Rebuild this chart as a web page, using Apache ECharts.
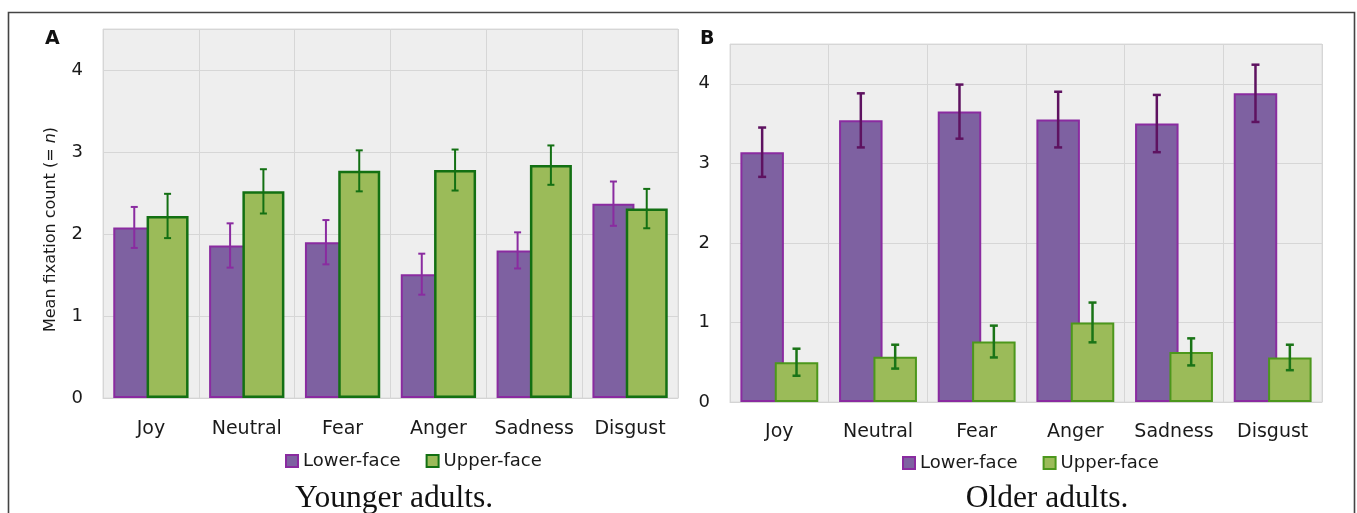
<!DOCTYPE html>
<html>
<head>
<meta charset="utf-8">
<script src="https://cdn.jsdelivr.net/npm/echarts@6/dist/echarts.min.js"></script>
<style>
  html, body { margin: 0; padding: 0; background: #fff; }
  #chart { width: 1357px; height: 513px; }
</style>
</head>
<body>
<div id="chart"></div>
<script>
// Emotion categories shown on both panels
const categories = ['Joy', 'Neutral', 'Fear', 'Anger', 'Sadness', 'Disgust'];
const yTicks = [0, 1, 2, 3, 4];

// Panel A: younger adults, mean fixation count and error (±)
const youngLowerMean = [2.08, 1.86, 1.90, 1.51, 1.80, 2.37];
const youngLowerErr  = [0.25, 0.27, 0.27, 0.25, 0.22, 0.27];
const youngUpperMean = [2.22, 2.52, 2.77, 2.78, 2.84, 2.31];
const youngUpperErr  = [0.27, 0.27, 0.25, 0.25, 0.24, 0.24];

// Panel B: older adults
const oldLowerMean = [3.14, 3.54, 3.65, 3.55, 3.50, 3.88];
const oldLowerErr  = [0.31, 0.34, 0.34, 0.35, 0.36, 0.36];
const oldUpperMean = [0.50, 0.57, 0.76, 1.00, 0.63, 0.56];
const oldUpperErr  = [0.17, 0.15, 0.20, 0.25, 0.17, 0.16];

const SANS = '"DejaVu Sans", "Noto Sans", sans-serif';
const SERIF = '"Liberation Serif", "DejaVu Serif", serif';
const PURPLE_FILL = '#7e61a1';
const PURPLE_EDGE = '#8a2ba0';
const GREEN_FILL = '#9bbb59';
const GREEN_EDGE_A = '#137013';
const GREEN_EDGE_B = '#4c971c';

// Bar geometry per panel: width in px and overlap of the paired bars
const GEOM_A = { w: 42, gap: -0.207 };
const GEOM_B = { w: 43.5, gap: -0.21 };

function errData(mean, err) {
  return mean.map((m, i) => [i, m - err[i], m + err[i]]);
}

// Whisker with caps, centred over one bar of the group
function errRender(side, geom, color, lw, cap) {
  return function (params, api) {
    const i = api.value(0);
    const lo = api.coord([i, api.value(1)]);
    const hi = api.coord([i, api.value(2)]);
    const off = side * (geom.w * (1 + geom.gap)) / 2;
    const x = lo[0] + off;
    const st = { stroke: color, lineWidth: lw };
    return {
      type: 'group',
      children: [
        { type: 'line', shape: { x1: x, y1: hi[1], x2: x, y2: lo[1] }, style: st },
        { type: 'line', shape: { x1: x - cap / 2, y1: hi[1], x2: x + cap / 2, y2: hi[1] }, style: st },
        { type: 'line', shape: { x1: x - cap / 2, y1: lo[1], x2: x + cap / 2, y2: lo[1] }, style: st }
      ]
    };
  };
}

const gridStyle = {
  show: true,
  backgroundColor: '#eeeeee',
  borderColor: '#dcdcdc',
  borderWidth: 1
};

function xAxisFor(gridIndex, margin) {
  return {
    type: 'category',
    gridIndex: gridIndex,
    data: categories,
    axisTick: { show: false, interval: 0 },
    axisLine: { show: true, lineStyle: { color: '#d4d4d4', width: 1 } },
    splitLine: { show: true, interval: 0, lineStyle: { color: '#d6d6d6', width: 1 } },
    axisLabel: { interval: 0, color: '#1a1a1a', fontFamily: SANS, fontSize: 19, margin: margin }
  };
}

function yAxisFor(gridIndex, extra) {
  return Object.assign({
    type: 'value',
    gridIndex: gridIndex,
    min: 0,
    max: 4.5,
    interval: 1,
    axisLine: { show: false },
    axisTick: { show: false },
    splitLine: { show: true, lineStyle: { color: '#d6d6d6', width: 1 } },
    axisLabel: {
      color: '#1a1a1a', fontFamily: SANS, fontSize: 18, margin: 20,
      formatter: v => (yTicks.indexOf(v) >= 0 ? String(v) : '')
    }
  }, extra || {});
}

function barSeries(name, axisIdx, data, geom, fill, edge, bw) {
  return {
    type: 'bar',
    name: name,
    xAxisIndex: axisIdx,
    yAxisIndex: axisIdx,
    data: data,
    barWidth: geom.w,
    barGap: (geom.gap * 100) + '%',
    itemStyle: { color: fill, borderColor: edge, borderWidth: bw },
    emphasis: { disabled: true },
    z: 2
  };
}

function errSeries(axisIdx, mean, err, side, geom, color, lw, cap) {
  return {
    type: 'custom',
    xAxisIndex: axisIdx,
    yAxisIndex: axisIdx,
    data: errData(mean, err),
    encode: { x: 0, y: [1, 2] },
    renderItem: errRender(side, geom, color, lw, cap),
    silent: true,
    z: 5
  };
}

function legendFor(left, top, upperEdge) {
  return {
    left: left,
    top: top,
    orient: 'horizontal',
    icon: 'rect',
    itemWidth: 12,
    itemHeight: 12,
    itemGap: 25,
    selectedMode: false,
    textStyle: { color: '#1a1a1a', fontFamily: SANS, fontSize: 18 },
    data: [
      { name: 'Lower-face', itemStyle: { color: PURPLE_FILL, borderColor: PURPLE_EDGE, borderWidth: 2 } },
      { name: 'Upper-face', itemStyle: { color: GREEN_FILL, borderColor: upperEdge, borderWidth: 2 } }
    ]
  };
}

const option = {
  animation: false,
  backgroundColor: '#ffffff',
  grid: [
    Object.assign({ left: 103, top: 29, width: 575, height: 369 }, gridStyle),
    Object.assign({ left: 730, top: 44, width: 592, height: 358 }, gridStyle)
  ],
  xAxis: [xAxisFor(0, 22), xAxisFor(1, 21)],
  yAxis: [
    yAxisFor(0, {
      name: '{a|Mean fixation count (= }{b|n}{a|)}',
      nameLocation: 'middle',
      nameGap: 44,
      nameTextStyle: {
        padding: [0, 32, 0, 0],
        rich: {
          a: { fontFamily: SANS, fontSize: 16, color: '#1a1a1a' },
          b: { fontFamily: SANS, fontSize: 16, color: '#1a1a1a', fontStyle: 'italic' }
        }
      }
    }),
    yAxisFor(1)
  ],
  legend: [
    legendFor(280, 447, GREEN_EDGE_A),
    legendFor(897, 449, GREEN_EDGE_B)
  ],
  series: [
    barSeries('Lower-face', 0, youngLowerMean, GEOM_A, PURPLE_FILL, PURPLE_EDGE, 2),
    barSeries('Upper-face', 0, youngUpperMean, GEOM_A, GREEN_FILL, GREEN_EDGE_A, 2.5),
    barSeries('Lower-face', 1, oldLowerMean, GEOM_B, PURPLE_FILL, PURPLE_EDGE, 2),
    barSeries('Upper-face', 1, oldUpperMean, GEOM_B, GREEN_FILL, GREEN_EDGE_B, 2),
    errSeries(0, youngLowerMean, youngLowerErr, -1, GEOM_A, '#8a2ba0', 2, 7),
    errSeries(0, youngUpperMean, youngUpperErr, 1, GEOM_A, '#137013', 2, 7),
    errSeries(1, oldLowerMean, oldLowerErr, -1, GEOM_B, '#5e1260', 2.5, 8),
    errSeries(1, oldUpperMean, oldUpperErr, 1, GEOM_B, '#1a7417', 2.5, 8)
  ],
  graphic: [
    {
      type: 'rect', silent: true, z: 0,
      shape: { x: 8.5, y: 12.5, width: 1346, height: 600 },
      style: { fill: 'none', stroke: '#444444', lineWidth: 1.6 }
    },
    {
      type: 'text', left: 45, top: 30,
      style: { text: 'A', fontFamily: SANS, fontWeight: 'bold', fontSize: 19, fill: '#111' }
    },
    {
      type: 'text', left: 700, top: 30,
      style: { text: 'B', fontFamily: SANS, fontWeight: 'bold', fontSize: 19, fill: '#111' }
    },
    {
      type: 'text', x: 394, y: 499,
      style: { text: 'Younger adults.', fontFamily: SERIF, fontSize: 31.5, fill: '#111',
               align: 'center', verticalAlign: 'middle' }
    },
    {
      type: 'text', x: 1047, y: 499,
      style: { text: 'Older adults.', fontFamily: SERIF, fontSize: 31.5, fill: '#111',
               align: 'center', verticalAlign: 'middle' }
    }
  ]
};

const chart = echarts.init(document.getElementById('chart'), null, { renderer: 'canvas' });
chart.setOption(option);
</script>
</body>
</html>
